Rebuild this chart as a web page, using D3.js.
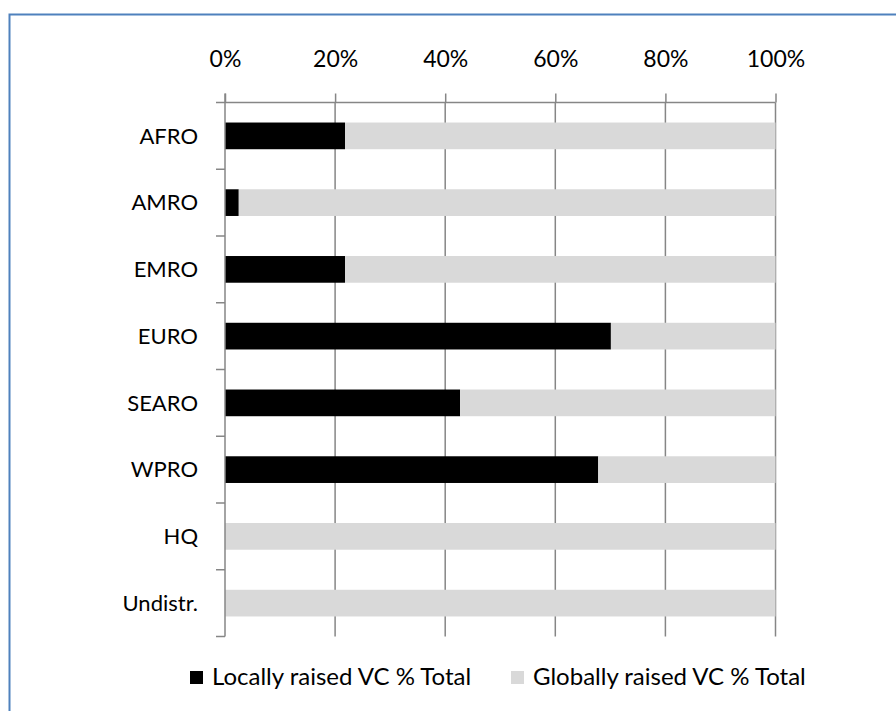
<!DOCTYPE html>
<html><head><meta charset="utf-8">
<script src="https://cdn.jsdelivr.net/npm/d3@7"></script>
<style>body{margin:0;background:#fff;} svg{display:block;font-family:Lato, "Open Sans", sans-serif;}</style>
</head><body>
<svg id="c" width="896" height="711"></svg>
<script>
const categories = ["AFRO","AMRO","EMRO","EURO","SEARO","WPRO","HQ","Undistr."];
const localPct = [21.8, 2.5, 21.8, 70.1, 42.7, 67.8, 0, 0];
const globalPct = [78.2, 97.5, 78.2, 29.9, 57.3, 32.2, 100, 100];
const xTicks = [0,20,40,60,80,100];
const seriesNames = ["Locally raised VC % Total","Globally raised VC % Total"];
const seriesColors = ["#000000","#d9d9d9"];

const svg = d3.select("#c");
svg.append("path").attr("d","M9.5,711 L9.5,14.5 L896,14.5").attr("fill","none").attr("stroke","#4f81bd").attr("stroke-width",2);

const pL=225, pR=775.5, pT=102.5, pB=636.5;
const x = d3.scaleLinear().domain([0,100]).range([pL,pR]);
const y = d3.scaleBand().domain(categories).range([pT,pB]).paddingInner(0.6).paddingOuter(0.3);

const grid="#868686";
svg.append("g").selectAll("line").data(xTicks.slice(1)).join("line")
  .attr("x1",d=>x(d)).attr("x2",d=>x(d)).attr("y1",pT).attr("y2",pB)
  .attr("stroke",grid).attr("stroke-width",1.5);

const stacked = categories.map((c,i)=>({c, vals:[localPct[i], globalPct[i]]}));
const g = svg.append("g");
stacked.forEach(s=>{
  let acc=0;
  s.vals.forEach((v,k)=>{
    if(v>0) g.append("rect").attr("x",x(acc)).attr("width",x(acc+v)-x(acc))
      .attr("y",y(s.c)).attr("height",y.bandwidth()).attr("fill",seriesColors[k]);
    acc+=v;
  });
});

const xa = svg.append("g").attr("transform",`translate(0,${pT})`)
  .call(d3.axisTop(x).tickValues(xTicks).tickFormat(d=>d+"%").tickSize(9).tickPadding(26.5));
xa.select(".domain").attr("stroke",grid).attr("stroke-width",1.5).attr("d",`M${pL-9},0H${pR}`);
xa.selectAll(".tick line").attr("stroke",grid).attr("stroke-width",1.5);
xa.selectAll(".tick text").attr("fill","#000").style("font-size","23px").style("font-family","Lato, sans-serif");

const bounds = categories.map(c=>y(c)-y.step()*y.paddingInner()/2).concat([pB]);
const ya = svg.append("g");
ya.append("line").attr("x1",pL).attr("x2",pL).attr("y1",pT-9).attr("y2",pB).attr("stroke",grid).attr("stroke-width",1.5);
ya.selectAll("line.t").data(bounds.slice(1)).join("line").attr("class","t")
  .attr("x1",pL-9).attr("x2",pL).attr("y1",d=>d).attr("y2",d=>d).attr("stroke",grid).attr("stroke-width",1.5);
ya.selectAll("text").data(categories).join("text")
  .attr("x",pL-27).attr("y",d=>y(d)+y.bandwidth()/2).attr("dy","0.35em")
  .attr("text-anchor","end").style("font-size","22px").text(d=>d);

const leg = svg.append("g");
const legX=[190,511];
seriesNames.forEach((n,i)=>{
  leg.append("rect").attr("x",legX[i]).attr("y",671).attr("width",13).attr("height",13).attr("fill",seriesColors[i]);
  leg.append("text").attr("x",legX[i]+22).attr("y",685).style("font-size","24px").text(n);
});
</script>
</body></html>
